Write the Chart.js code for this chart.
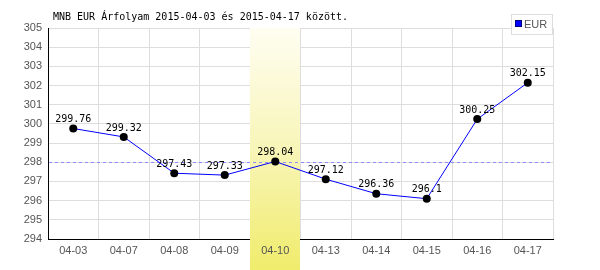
<!DOCTYPE html>
<html>
<head>
<meta charset="utf-8">
<script src="https://cdn.jsdelivr.net/npm/chart.js@4"></script>
<style>
  html, body { margin: 0; padding: 0; background: #fff; }
  #wrap { width: 600px; height: 270px; }
</style>
</head>
<body>
<div id="wrap"><canvas id="chart" width="600" height="270"></canvas></div>
<script>
// adatok
const labels = ["04-03", "04-07", "04-08", "04-09", "04-10", "04-13", "04-14", "04-15", "04-16", "04-17"];
const eurValues = [299.76, 299.32, 297.43, 297.33, 298.04, 297.12, 296.36, 296.1, 300.25, 302.15];
const seriesName = "EUR";
const title = "MNB EUR Árfolyam 2015-04-03 és 2015-04-17 között.";
const highlightLabel = "04-10";
const refValue = 298.04;
const yMin = 294, yMax = 305;

const MONO = "'DejaVu Sans Mono', monospace";
const SANS = "'Liberation Sans', Arial, sans-serif";

// kiemelt nap sávja + szaggatott vonal (adatok elott)
const bandPlugin = {
  id: "band",
  beforeDatasetsDraw(chart) {
    const { ctx, chartArea, scales } = chart;
    const x = scales.x;
    const idx = labels.indexOf(highlightLabel);
    const step = x.getPixelForValue(1) - x.getPixelForValue(0);
    const cx = x.getPixelForValue(idx);
    const left = Math.round(cx - step / 2), right = Math.round(cx + step / 2);
    const top = chartArea.top, bottom = chart.height;
    const g = ctx.createLinearGradient(0, top, 0, bottom);
    g.addColorStop(0, "#fffef2");
    g.addColorStop(0.5, "#f8f5b8");
    g.addColorStop(1, "#f0ec6c");
    ctx.save();
    ctx.fillStyle = g;
    ctx.fillRect(left, top, right - left - 1, bottom - top);

    const y = Math.round(scales.y.getPixelForValue(refValue)) + 0.5;
    ctx.strokeStyle = "#8c8cff";
    ctx.lineWidth = 1;
    ctx.setLineDash([3, 3]);
    ctx.beginPath();
    ctx.moveTo(chartArea.left + 1, y);
    ctx.lineTo(chartArea.right, y);
    ctx.stroke();
    ctx.restore();
  }
};

// cimkek, cim, jelmagyarazat
const textPlugin = {
  id: "texts",
  afterDraw(chart) {
    const { ctx } = chart;
    const meta = chart.getDatasetMeta(0);
    ctx.save();
    ctx.font = "10px " + MONO;
    ctx.fillStyle = "#000";
    ctx.textAlign = "center";
    ctx.textBaseline = "bottom";
    meta.data.forEach((pt, i) => {
      ctx.fillText(String(eurValues[i]), pt.x, pt.y - 4);
    });

    ctx.textAlign = "left";
    ctx.textBaseline = "alphabetic";
    ctx.fillText(title, 53, 20);

    // jelmagyarazat
    const lx = 511.5, ly = 14.5, lw = 41, lh = 20;
    ctx.fillStyle = "#fff";
    ctx.fillRect(lx, ly, lw, lh);
    ctx.strokeStyle = "#dddddd";
    ctx.lineWidth = 1;
    ctx.strokeRect(lx, ly, lw, lh);
    ctx.fillStyle = "#0000ff";
    ctx.fillRect(516, 21, 6, 6);
    ctx.strokeStyle = "#000080";
    ctx.strokeRect(515.5, 20.5, 6, 6);
    ctx.fillStyle = "#555";
    ctx.font = "11px " + SANS;
    ctx.textBaseline = "middle";
    ctx.fillText(seriesName, 524, 25);
    ctx.restore();
  }
};

new Chart(document.getElementById("chart"), {
  type: "line",
  data: {
    labels: labels,
    datasets: [{
      label: seriesName,
      data: eurValues,
      borderColor: "#0000ff",
      borderWidth: 1,
      pointBackgroundColor: "#000",
      pointBorderColor: "#000",
      pointRadius: 4,
      pointBorderWidth: 0,
      tension: 0
    }]
  },
  options: {
    responsive: false,
    animation: false,
    layout: { padding: { top: 28, right: 47, left: 0, bottom: 0 } },
    plugins: {
      legend: { display: false },
      tooltip: { enabled: false },
      title: { display: false }
    },
    scales: {
      x: {
        offset: true,
        grid: { offset: true, color: "#dddddd", drawTicks: false },
        border: { color: "#000", width: 1 },
        ticks: { z: 1, color: "#555", font: { family: SANS, size: 11 }, padding: 5, maxRotation: 0, autoSkip: false },
        afterFit(s) { s.height = 31; }
      },
      y: {
        min: yMin,
        max: yMax,
        grid: { color: "#dddddd", drawTicks: false },
        border: { color: "#000", width: 1 },
        ticks: { z: 1, stepSize: 1, color: "#555", font: { family: SANS, size: 11 }, padding: 6 },
        afterFit(s) { s.width = 48; }
      }
    }
  },
  plugins: [bandPlugin, textPlugin]
});
</script>
</body>
</html>
